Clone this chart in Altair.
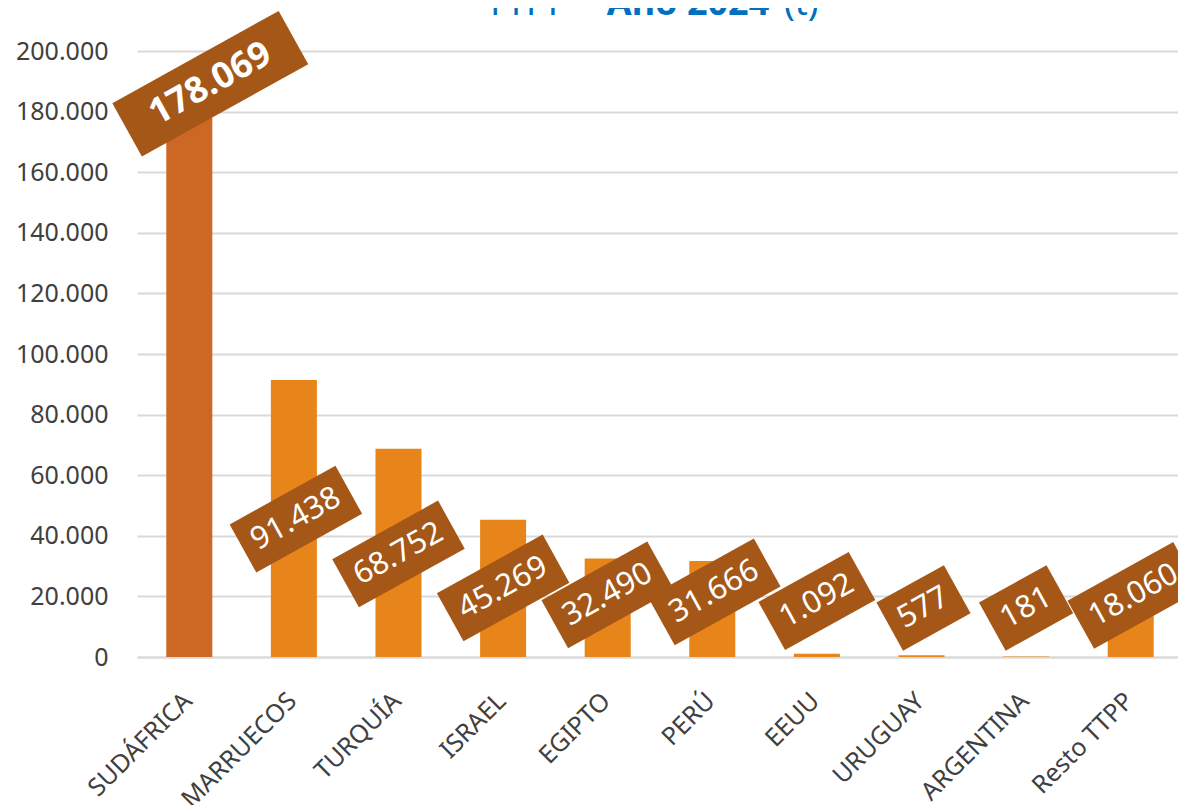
import altair as alt
import pandas as pd

# ---- data ----
categories = ["SUDÁFRICA", "MARRUECOS", "TURQUÍA", "ISRAEL", "EGIPTO",
              "PERÚ", "EEUU", "URUGUAY", "ARGENTINA", "Resto TTPP"]
values = [178069, 91438, 68752, 45269, 32490, 31666, 1092, 577, 181, 18060]
value_labels = ["178.069", "91.438", "68.752", "45.269", "32.490",
                "31.666", "1.092", "577", "181", "18.060"]
# vertical anchor of each callout label (data units)
label_anchor = [189200, 45500, 34000, 22800, 20500, 21500, 18500, 16200, 16200, 20300]
y_ticks = [0, 20000, 40000, 60000, 80000, 100000, 120000, 140000, 160000, 180000, 200000]
title_parts = ["TTPP –", "Año 2024", "(t)"]

# ---- styles ----
FONT = "Noto Sans"
bar_colors = ["#CC6724"] + ["#E8851A"] * 9
box_color = "#A55718"
HALF_BAR = 23
label_dx = [d + HALF_BAR for d in [21, 2, 0, 0, 0, 2, 0, 2, 0, 3]]
bold_flags = [True] + [False] * 9
ANGLE = 331
FS_BOLD, FS_NORM = 36, 31


def box_path(text, bold):
    fs = FS_BOLD if bold else FS_NORM
    w = sum(0.572 * fs if ch.isdigit() else 0.27 * fs for ch in text)
    w += 57 if bold else 24
    h = 61 if bold else 55
    return f"M{-w/2:.1f},{-h/2:.1f}L{w/2:.1f},{-h/2:.1f}L{w/2:.1f},{h/2:.1f}L{-w/2:.1f},{h/2:.1f}Z"


df = pd.DataFrame({
    "cat": categories,
    "val": values,
    "lab": value_labels,
    "ly": label_anchor,
    "dx": label_dx,
    "bold": bold_flags,
})
df["path"] = [box_path(t, b) for t, b in zip(value_labels, bold_flags)]

x_enc = alt.X("cat:N", sort=categories,
              scale=alt.Scale(paddingInner=0.56, paddingOuter=0.28),
              axis=alt.Axis(title=None, labelAngle=-45, labelAlign="right",
                            labelBaseline="top", labelPadding=31, labelOffset=-10,
                            labelFont=FONT, labelFontSize=25, labelColor="#404040",
                            ticks=False, domainColor="#D9D9D9", domainWidth=2,
                            grid=False))
y_scale = alt.Scale(domain=[0, 200000], nice=False)

base = alt.Chart(df)

bars = base.mark_bar().encode(
    x=x_enc,
    y=alt.Y("val:Q", scale=y_scale,
            axis=alt.Axis(title=None, values=y_ticks,
                          labelExpr="replace(format(datum.value, ','), ',', '.')",
                          grid=True, gridColor="#D9D9D9", gridWidth=2,
                          domain=False, ticks=False, labelPadding=29,
                          labelFont=FONT, labelFontSize=25, labelColor="#404040")),
    color=alt.Color("cat:N", scale=alt.Scale(domain=categories, range=bar_colors), legend=None),
)

boxes = base.mark_point(filled=True, opacity=1, strokeWidth=0).encode(
    x=alt.X("cat:N", sort=categories),
    y=alt.Y("ly:Q", scale=y_scale),
    xOffset=alt.XOffset("dx:Q", scale=None),
    shape=alt.Shape("path:N", scale=None),
    size=alt.value(4),
    angle=alt.value(ANGLE),
    color=alt.value(box_color),
)

txt_bold = base.transform_filter("datum.bold").mark_text(
    font=FONT, fontSize=FS_BOLD, fontWeight="bold", color="white",
    angle=ANGLE, align="center", baseline="middle",
).encode(
    x=alt.X("cat:N", sort=categories),
    y=alt.Y("ly:Q", scale=y_scale),
    xOffset=alt.XOffset("dx:Q", scale=None),
    text="lab:N",
)

txt_norm = base.transform_filter("!datum.bold").mark_text(
    font=FONT, fontSize=FS_NORM, color="white",
    angle=ANGLE, align="center", baseline="middle",
).encode(
    x=alt.X("cat:N", sort=categories),
    y=alt.Y("ly:Q", scale=y_scale),
    xOffset=alt.XOffset("dx:Q", scale=None),
    text="lab:N",
)

tdf = pd.DataFrame({"t": title_parts})
t1 = alt.Chart(tdf).transform_filter(f"datum.t == '{title_parts[0]}'").mark_text(
    font=FONT, fontSize=36, color="#0070C0", align="right", baseline="alphabetic"
).encode(x=alt.value(460), y=alt.value(-36), text="t:N")
t2 = alt.Chart(tdf).transform_filter(f"datum.t == '{title_parts[1]}'").mark_text(
    font=FONT, fontSize=36, fontWeight="bold", color="#0070C0", align="center", baseline="alphabetic"
).encode(x=alt.value(551), y=alt.value(-36), text="t:N")
t3 = alt.Chart(tdf).transform_filter(f"datum.t == '{title_parts[2]}'").mark_text(
    font=FONT, fontSize=36, color="#0070C0", align="left", baseline="alphabetic"
).encode(x=alt.value(647), y=alt.value(-36), text="t:N")

chart = alt.layer(bars, boxes, txt_bold, txt_norm, t1, t2, t3).properties(
    width=1046, height=606,
    autosize=alt.AutoSizeParams(type="none"),
    padding={"left": 129, "top": 43, "right": -5, "bottom": 148},
).configure_view(stroke=None)

chart.save("out.html", embed_options={"renderer": "svg", "actions": False})
